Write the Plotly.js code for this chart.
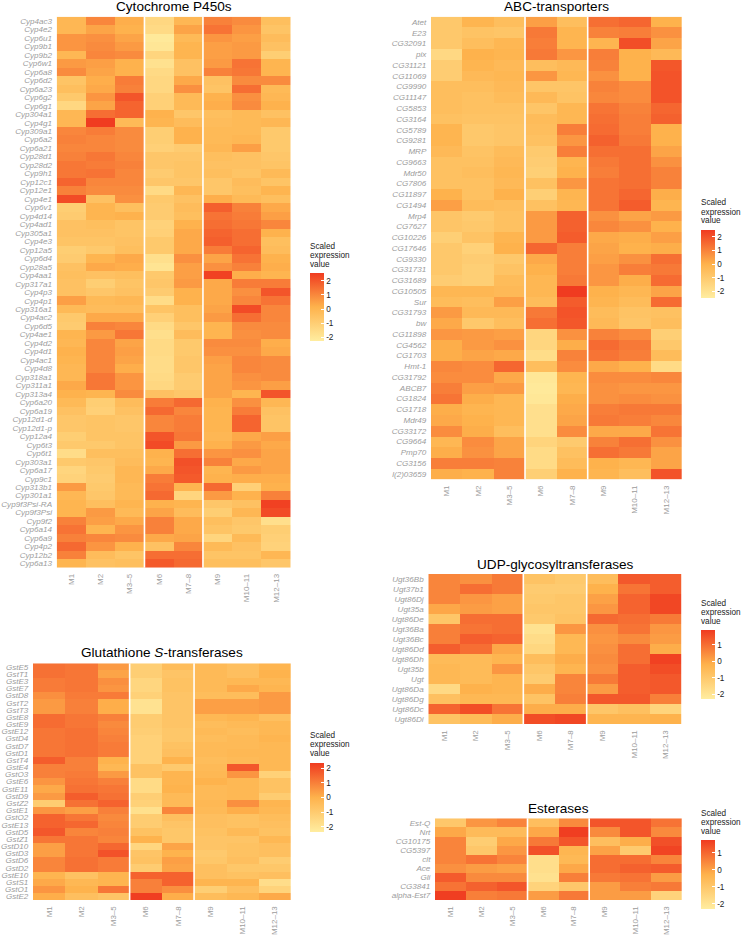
<!DOCTYPE html>
<html>
<head>
<meta charset="utf-8">
<script src="https://cdn.plot.ly/plotly-3.0.1.min.js"></script>
<style>
html, body { margin: 0; padding: 0; background: #fff; }
#chart { width: 742px; height: 935px; }
</style>
</head>
<body>
<div id="chart"></div>
<script>
const stages = ["M1", "M2", "M3–5", "M6", "M7–8", "M9", "M10–11", "M12–13"];
const stageGroups = [3, 2, 3];
const legendLines = ["Scaled", "expression", "value"];

const cypGenes = ["Cyp4ac3", "Cyp4e2", "Cyp6u1", "Cyp9b1", "Cyp9b2", "Cyp6w1", "Cyp6a8", "Cyp6d2", "Cyp6a23", "Cyp6g2", "Cyp6g1", "Cyp304a1", "Cyp4g1", "Cyp309a1", "Cyp6a2", "Cyp6a21", "Cyp28d1", "Cyp28d2", "Cyp9h1", "Cyp12c1", "Cyp12e1", "Cyp4e1", "Cyp6v1", "Cyp4d14", "Cyp4ad1", "Cyp305a1", "Cyp4e3", "Cyp12a5", "Cyp6d4", "Cyp28a5", "Cyp4aa1", "Cyp317a1", "Cyp4p3", "Cyp4p1", "Cyp316a1", "Cyp4ac2", "Cyp6d5", "Cyp4ae1", "Cyp4d2", "Cyp4d1", "Cyp4ac1", "Cyp4d8", "Cyp318a1", "Cyp311a1", "Cyp313a4", "Cyp6a20", "Cyp6a19", "Cyp12d1-d", "Cyp12d1-p", "Cyp12a4", "Cyp6t3", "Cyp6t1", "Cyp303a1", "Cyp6a17", "Cyp9c1", "Cyp313b1", "Cyp301a1", "Cyp9f3Psi-RA", "Cyp9f3Psi", "Cyp9f2", "Cyp6a14", "Cyp6a9", "Cyp4p2", "Cyp12b2", "Cyp6a13"];
const cypValues = [
    [-0.1, 1.0, 0.2, -1.4, -0.1, 1.1, 0.9, -0.4],
    [-0.1, 0.4, 0.1, -1.5, 0.4, 1.4, 0.7, -0.6],
    [0.7, 0.8, 0.4, -2.1, -0.2, 0.7, 0.5, -0.3],
    [0.7, 0.9, 0.6, -2.0, 0.0, 0.5, 0.6, -0.5],
    [-0.1, 1.0, 0.9, -1.3, 0.0, 0.5, 0.6, -1.0],
    [0.6, 0.5, 0.1, -1.8, -0.5, 0.6, 1.4, 0.0],
    [0.9, 0.4, 0.1, -1.5, -0.5, 1.1, 1.3, 0.0],
    [-0.6, 0.2, 1.2, -1.4, 0.3, -0.5, 0.9, 0.9],
    [-0.4, 0.3, 1.1, -1.4, 0.8, -0.6, 1.5, -0.2],
    [-0.8, 0.7, 2.0, -1.1, -0.2, 0.1, 0.8, -0.1],
    [-1.4, 0.4, 1.7, -1.1, -0.2, 0.2, 0.9, 0.1],
    [-0.1, 1.5, 1.7, 0.1, -0.7, -0.4, -0.2, -0.5],
    [-0.1, 2.5, -0.2, 0.0, -0.3, -0.3, -0.2, -0.1],
    [1.0, 1.2, 0.9, -1.0, 0.1, -0.2, -0.2, -0.8],
    [1.1, 1.0, 0.9, -1.0, 0.1, -0.2, -0.1, -0.8],
    [1.0, 1.0, 0.9, -1.1, -0.9, -0.1, 0.5, -0.8],
    [1.1, 1.3, 1.0, -0.7, -0.7, -0.4, -0.5, -0.7],
    [1.3, 1.2, 1.1, -0.7, -0.6, -0.5, -0.5, -0.6],
    [1.3, 1.4, 1.0, -0.9, -0.6, -0.4, -0.6, -0.2],
    [1.7, 1.0, 1.0, -0.7, -0.7, -0.7, -0.3, -0.6],
    [1.1, 0.9, 0.9, -1.5, -0.1, -0.7, -0.4, 0.0],
    [2.2, -0.5, 0.8, -0.8, -0.5, 0.2, -0.2, -0.4],
    [-1.0, 0.0, -0.4, -0.9, -0.3, 1.8, 1.1, 0.3],
    [-0.9, 0.0, 0.1, -0.9, -0.4, 1.4, 1.2, 0.5],
    [-0.5, -0.4, -0.6, -1.2, 0.1, 1.5, 1.3, 1.0],
    [-0.5, -0.5, -0.6, -1.1, 0.3, 1.7, 1.5, 0.1],
    [-0.6, -0.6, -0.5, -0.8, 0.3, 1.8, 1.5, -0.4],
    [-1.0, -0.8, -0.4, -0.8, 0.3, 1.2, 1.7, -0.3],
    [-0.9, 0.0, 0.3, -1.7, 0.8, 0.4, 1.4, 0.1],
    [-0.5, 0.3, 0.2, -1.9, 0.5, 0.8, 1.1, 0.2],
    [-0.4, -0.5, -0.4, -0.8, 0.5, 2.4, 0.2, 0.0],
    [-0.5, -1.0, -0.6, -0.7, 0.6, 0.3, 1.2, 1.2],
    [-0.5, -0.7, -0.5, -0.9, 0.1, 0.3, 0.8, 2.0],
    [0.5, -0.2, -0.1, -1.6, 0.1, 0.3, 1.0, 1.4],
    [-0.2, -0.3, -0.3, -0.6, -0.4, 0.4, 2.2, 1.0],
    [-0.8, 0.3, 0.3, -1.1, -0.4, 0.6, 1.5, 1.0],
    [-0.9, 1.1, 1.0, -1.5, -0.7, 0.0, 0.9, 0.9],
    [0.0, 0.6, 1.3, -1.7, -0.3, 0.0, 0.8, 0.9],
    [-0.1, 1.0, 0.4, -1.5, -0.8, 0.9, 0.9, 0.2],
    [0.1, 1.0, 0.5, -1.5, -0.8, 0.8, 0.8, 0.3],
    [0.0, 1.0, 0.4, -1.6, -0.7, 0.5, 1.0, 0.9],
    [-0.1, 1.0, 0.2, -1.6, -0.7, 0.4, 1.0, 0.9],
    [-0.1, 1.3, 0.7, -1.5, -0.9, 0.4, 0.8, 0.9],
    [0.3, 1.3, 0.7, -1.4, -0.9, 0.4, 0.7, 0.5],
    [0.1, 0.0, 0.9, -0.5, -0.7, 0.4, 0.0, 2.0],
    [-0.2, -1.0, -0.3, 1.2, 1.6, 0.1, 0.8, -0.1],
    [-0.5, -1.1, -0.5, 1.6, 1.0, 0.0, 1.2, -0.5],
    [-0.7, -0.6, -0.7, 1.0, 1.2, 0.0, 1.7, -0.6],
    [-0.7, -0.6, -0.7, 1.0, 1.2, 0.0, 1.7, -0.6],
    [-1.0, -0.6, -0.6, 2.0, 1.3, -0.1, 0.3, 0.5],
    [-0.8, -0.8, -0.6, 2.2, 0.6, 0.1, 0.6, 0.3],
    [-1.6, -0.4, -0.4, 0.1, 1.5, 0.7, 0.8, 0.4],
    [-0.8, -0.7, -0.3, 0.0, 2.1, 1.1, 0.3, 0.4],
    [-1.3, -0.8, -0.1, 0.3, 2.0, 0.0, 0.6, 0.4],
    [-1.2, -0.9, -0.1, 1.2, 1.9, 0.1, 0.2, 0.2],
    [0.6, -0.8, -0.2, 1.4, 0.0, 1.6, -1.1, 0.1],
    [-0.1, -0.7, -0.2, 1.6, -1.3, 0.6, 0.1, 1.1],
    [0.0, -0.4, 0.0, 0.1, 0.0, -0.7, -0.5, 2.4],
    [0.0, 0.6, -0.2, 0.4, -0.3, -1.0, -0.1, 2.2],
    [1.1, 0.5, 0.3, 1.1, 0.3, -0.4, -0.7, -1.7],
    [1.4, 0.0, 0.7, 1.1, 0.3, -0.6, -0.8, -1.0],
    [1.1, 1.0, 0.9, 0.3, 0.4, -1.3, -0.2, -1.1],
    [1.6, 0.7, 0.1, -0.5, 1.0, -0.2, -0.5, -1.2],
    [1.1, -0.3, -0.6, 1.5, 1.5, -0.6, -0.6, -0.1],
    [0.0, -0.5, -0.4, 1.9, 1.6, -0.4, -0.4, -0.7]
];

const abcGenes = ["Atet", "E23", "CG32091", "pix", "CG31121", "CG11069", "CG9990", "CG11147", "CG5853", "CG3164", "CG5789", "CG9281", "MRP", "CG9663", "Mdr50", "CG7806", "CG11897", "CG1494", "Mrp4", "CG7627", "CG10226", "CG17646", "CG9330", "CG31731", "CG31689", "CG10505", "Sur", "CG31793", "bw", "CG11898", "CG4562", "CG1703", "Hmt-1", "CG31792", "ABCB7", "CG1824", "CG1718", "Mdr49", "CG33172", "CG9664", "Pmp70", "CG3156", "l(2)03659"];
const abcValues = [
    [-0.9, -0.1, -0.5, 0.4, -0.5, 1.4, 1.6, 0.0],
    [-0.9, -0.7, -0.8, 1.2, -0.1, 1.0, 1.1, 0.7],
    [-0.9, -0.5, -0.2, 1.1, -0.1, -0.1, 2.1, 0.3],
    [-1.6, 0.0, -0.1, 1.2, 0.6, 1.1, 0.0, -0.3],
    [-1.1, -0.1, -0.3, -0.5, -0.3, 1.0, 0.0, 1.9],
    [-1.1, -0.3, -0.2, 0.6, -0.2, 0.7, 0.0, 2.0],
    [-0.5, -0.5, -0.3, -0.8, -0.8, 1.0, 0.8, 2.0],
    [-0.5, -0.6, -0.4, -0.3, -0.7, 0.9, 0.8, 2.0],
    [-0.5, -0.6, -0.6, -0.8, -0.2, 1.3, 1.0, 1.6],
    [-0.6, -0.7, -0.7, -0.4, -0.2, 1.4, 1.1, 1.7],
    [-0.1, -0.9, -0.8, -0.5, 1.1, 1.5, 1.1, 0.0],
    [-0.1, -0.9, -0.8, -0.6, 0.6, 1.7, 1.2, 0.0],
    [-0.3, -0.7, -0.4, -1.0, 1.1, 1.4, 1.4, 0.3],
    [-0.6, -0.6, -0.3, -1.1, -0.1, 1.2, 1.4, 0.7],
    [-0.6, -0.5, -0.2, -1.2, 0.0, 1.1, 1.4, 1.0],
    [-0.6, -0.6, -0.3, -0.6, 0.6, 1.3, 1.4, 1.0],
    [0.0, -0.6, 0.0, -1.2, -0.1, 1.3, 1.6, 0.1],
    [0.4, -0.4, -0.5, -0.6, -0.2, 1.3, 1.8, -0.1],
    [-0.8, -1.0, -0.6, 0.5, 1.7, 0.7, 0.3, 0.5],
    [-0.8, -0.9, -0.6, 0.5, 1.7, 0.9, 0.7, 0.0],
    [-1.2, -0.7, -0.1, 0.5, 1.8, 0.2, 0.1, 0.4],
    [-0.9, -1.3, 0.0, 1.6, 1.1, 0.3, 0.0, 0.1],
    [-0.9, -1.1, -0.9, 0.2, 1.1, 0.4, 0.7, 1.4],
    [-0.9, -1.2, -0.7, 0.0, 1.1, 0.6, 1.1, 1.2],
    [-1.1, -1.2, -0.4, -0.2, 1.2, 0.6, 0.1, 1.5],
    [-0.2, -0.2, -0.3, -0.2, 2.5, 0.0, -0.2, 0.3],
    [-0.4, -0.5, 0.4, -0.4, 1.8, -0.1, -0.4, 1.5],
    [0.5, -0.3, -0.3, 1.2, 2.0, -0.4, -0.7, -0.6],
    [0.2, -0.9, -0.5, 1.4, 1.9, -0.3, -0.8, -0.5],
    [0.6, 0.5, 0.4, -1.5, 0.7, 1.0, 0.8, -1.2],
    [0.1, 0.5, 0.7, -1.5, 0.1, 1.5, 1.2, -0.9],
    [0.1, 0.3, 0.2, -1.8, 1.0, 1.3, 1.1, -0.4],
    [0.9, 0.8, 1.6, -0.5, 0.8, 0.2, 0.0, -1.7],
    [0.8, 0.8, 0.2, -2.2, -0.1, 0.8, 0.8, 0.9],
    [1.1, 0.4, 0.5, -2.3, -0.2, 0.7, 0.6, 0.6],
    [1.3, 0.1, -0.2, -2.2, 0.1, 0.7, 0.8, 0.7],
    [0.1, -0.1, -0.2, -1.9, 0.2, 1.1, 1.2, 1.2],
    [0.2, 0.0, -0.2, -1.9, 0.3, 1.2, 1.1, 0.9],
    [0.8, 0.1, -0.5, -1.9, 0.8, 0.2, 0.2, 1.3],
    [-0.2, 0.8, 0.3, -1.4, -1.0, 1.0, 1.4, 0.7],
    [0.1, 0.7, 0.3, -1.7, -0.6, 1.4, 1.2, 0.3],
    [1.1, 1.1, 1.0, -1.7, -0.4, 0.0, -0.2, 0.3],
    [0.1, 0.0, 1.0, -1.2, 0.0, -0.1, -0.5, 2.0]
];

const gstGenes = ["GstE5", "GstT1", "GstE3", "GstE7", "GstD8", "GstT2", "GstT3", "GstE8", "GstE9", "GstE12", "GstD4", "GstD7", "GstD1", "GstT4", "GstE4", "GstO3", "GstE6", "GstE11", "GstD9", "GstZ2", "GstE1", "GstO2", "GstE13", "GstD5", "GstZ1", "GstD10", "GstD3", "GstD6", "GstD2", "GstE10", "GstS1", "GstO1", "GstE2"];
const gstValues = [
    [1.3, 1.2, 0.5, -1.1, -0.4, -0.3, -0.5, -0.1],
    [1.3, 1.2, 0.3, -1.1, -0.7, -0.3, -0.5, 0.0],
    [1.1, 1.2, 0.7, -1.4, -0.6, -0.3, -0.2, -0.2],
    [1.1, 1.2, 0.6, -1.4, -0.6, -0.3, 0.2, -0.1],
    [0.7, 1.1, 1.1, -1.2, -0.7, -0.4, -0.4, 0.5],
    [0.5, 1.0, 0.1, -1.9, -0.7, 0.4, 0.4, 0.5],
    [0.5, 1.0, 0.1, -1.9, -0.7, 0.4, 0.4, 0.5],
    [1.4, 1.2, 1.0, -1.0, -0.7, -0.2, -0.1, -0.5],
    [1.4, 1.2, 0.8, -1.0, -0.7, -0.4, -0.3, -0.2],
    [1.2, 1.3, 0.9, -1.1, -0.8, -0.3, -0.4, -0.2],
    [1.2, 1.3, 1.0, -1.2, -0.8, -0.4, -0.3, -0.1],
    [1.2, 1.3, 1.1, -1.2, -0.6, -0.3, -0.3, -0.2],
    [1.2, 1.3, 1.1, -1.2, -0.5, -0.3, -0.2, -0.2],
    [1.7, 1.0, 0.0, -1.2, 0.0, -0.4, -0.3, -0.2],
    [1.0, 1.0, -0.2, -0.6, -0.9, -0.3, 1.8, -0.2],
    [1.0, 1.1, 0.5, -0.6, -0.1, -0.2, 0.6, -1.2],
    [0.6, 1.2, 1.0, -1.6, -0.1, 0.0, -0.2, -0.6],
    [0.2, 1.3, 1.2, -1.6, 0.0, -0.3, -0.2, -0.6],
    [0.5, 1.7, 1.3, -1.1, -0.3, -0.3, -0.2, -1.0],
    [-1.0, 1.3, 1.6, -1.2, -0.3, -0.2, 0.7, -0.1],
    [0.6, 0.4, 1.0, -1.8, 0.9, -0.3, 0.1, -0.2],
    [1.6, 1.2, 0.8, -1.0, -0.5, -0.5, -0.6, -0.4],
    [1.6, 1.5, 0.9, -1.0, -0.7, -0.5, -0.6, -0.5],
    [1.8, 0.9, 1.0, -0.6, -0.8, -0.6, -0.3, -0.6],
    [1.2, 1.2, 0.9, 0.0, -0.8, -0.7, -0.7, -0.2],
    [0.4, 1.2, 1.5, -1.4, 0.3, -0.7, -0.6, -0.5],
    [0.4, 1.2, 1.9, -0.7, 0.0, -0.9, -0.6, -0.5],
    [0.9, 1.3, 1.1, -0.6, 0.4, -0.8, -0.5, -1.0],
    [0.9, 1.3, 1.1, -1.0, 0.3, -0.5, -0.8, -0.8],
    [-0.1, -0.6, -0.1, 1.6, 1.6, -0.5, -0.6, -0.5],
    [0.2, -0.2, -0.1, 1.0, 1.6, -0.1, -0.1, -1.7],
    [0.6, 0.0, 1.2, 1.0, 0.7, -1.1, -0.5, -1.3],
    [0.1, -0.5, -0.7, 2.3, 0.1, -0.4, -0.2, 0.2]
];

const ugtGenes = ["Ugt36Bb", "Ugt37b1", "Ugt86Dj", "Ugt35a", "Ugt86De", "Ugt36Ba", "Ugt36Bc", "Ugt86Dd", "Ugt86Dh", "Ugt35b", "Ugt", "Ugt86Da", "Ugt86Dg", "Ugt86Dc", "Ugt86Di"];
const ugtValues = [
    [0.6, 0.4, 0.8, -0.8, -1.0, -0.6, 1.4, 1.3],
    [0.6, 1.0, 0.8, -1.1, -1.1, -0.2, 0.9, 1.3],
    [0.6, 0.3, 0.1, -1.0, -0.9, 0.1, 1.2, 1.7],
    [0.0, 0.2, 0.1, -0.9, -0.9, 0.3, 1.2, 1.7],
    [-0.9, 1.0, 1.0, -1.0, -0.8, 1.1, 1.0, 0.8],
    [0.7, 0.9, 1.0, -1.9, 0.3, 0.4, 0.9, 0.3],
    [0.7, 1.3, 1.2, -1.7, -0.4, 0.3, 0.5, 0.2],
    [1.3, 1.0, 0.0, -1.5, -0.4, 0.4, 1.0, -0.1],
    [-0.5, -0.5, -0.3, -0.6, -0.1, 0.5, 1.0, 1.8],
    [-0.4, -0.5, 0.3, -0.9, -0.3, 0.4, 1.3, 1.6],
    [-0.4, -0.5, -0.3, -1.1, 0.6, 0.8, 1.3, 1.4],
    [-1.6, -0.2, -0.3, -0.1, 0.6, 0.2, 1.3, 1.4],
    [-0.7, -0.4, -0.4, -0.8, 0.7, 1.4, 1.4, 0.7],
    [1.2, 1.6, 0.9, -0.1, -0.1, -0.9, -0.7, -1.4],
    [-0.8, -0.5, -0.1, 1.6, 1.7, -0.3, -0.3, -0.2]
];

const estGenes = ["Est-Q", "Nrt", "CG10175", "CG5397", "clt", "Ace", "Gli", "CG3841", "alpha-Est7"];
const estValues = [
    [-1.0, 0.2, 0.5, -0.7, 0.4, 1.3, 1.3, 0.8],
    [-0.1, -0.6, -0.6, -0.1, 1.7, 0.4, 1.3, 0.4],
    [0.5, -1.2, -0.1, 0.7, 1.3, -0.7, -0.2, 1.4],
    [0.5, -1.0, 0.2, 1.4, -0.4, 0.0, -1.1, 1.6],
    [0.5, 0.8, 0.5, -1.8, -0.5, 0.9, 0.9, 0.5],
    [0.3, 0.1, 0.0, -1.8, -0.1, 0.9, 1.1, 1.2],
    [1.2, 0.4, 0.4, -1.9, 0.6, 0.7, 0.8, 0.1],
    [0.8, 1.1, 1.3, -1.4, -1.0, 0.1, 0.6, 0.7],
    [1.7, 0.6, 0.7, 0.1, 0.7, 0.1, 0.1, -1.4]
];

const expressionColors = [[0, "#ffeda0"], [0.5, "#feb24c"], [1, "#f03b20"]];

// left, right, top, bottom of each heatmap and its colour bar, in page pixels
const panels = [
    {title: "Cytochrome P450s", genes: cypGenes, values: cypValues, box: [56.7, 290.7, 16.7, 567.7], bar: [310, 273.3, 341.7], range: [-2.28, 2.52], titleY: 6.6, ticks: [-2, -1, 0, 1, 2]},
    {title: "ABC-transporters", genes: abcGenes, values: abcValues, box: [431, 681.7, 16.7, 479.3], bar: [701.3, 230, 297.7], range: [-2.47, 2.49], titleY: 6.6, ticks: [-2, -1, 0, 1, 2]},
    {title: "Glutathione <i>S</i>-transferases", genes: gstGenes, values: gstValues, box: [33, 290.7, 663.3, 900], bar: [310, 762.7, 831.7], range: [-2.32, 2.36], titleY: 652.3, ticks: [-2, -1, 0, 1, 2]},
    {title: "UDP-glycosyltransferases", genes: ugtGenes, values: ugtValues, box: [428.3, 681.7, 574, 724], bar: [701.3, 630, 699], range: [-2.3, 1.91], titleY: 564, ticks: [-2, -1, 0, 1]},
    {title: "Esterases", genes: estGenes, values: estValues, box: [435, 681.7, 818.3, 900], bar: [701.3, 840, 909], range: [-2.3, 1.75], titleY: 808.7, ticks: [-2, -1, 0, 1]}
];

const pageWidth = 742;
const pageHeight = 935;
const tickGray = "#9c9c9c";

const traces = [];
const shapes = [];
const annotations = [];
const layout = {
    width: pageWidth,
    height: pageHeight,
    margin: {t: 0, r: 0, b: 0, l: 0},
    paper_bgcolor: "#fff",
    plot_bgcolor: "#fff",
    showlegend: false,
    font: {family: "Liberation Sans, Arial, sans-serif"}
};

panels.forEach(function(panel, i){
    const axisNum = i === 0 ? "" : String(i + 1);
    const box = panel.box;
    const bar = panel.bar;

    traces.push({
        type: "heatmap",
        x: stages,
        y: panel.genes,
        z: panel.values,
        xaxis: "x" + axisNum,
        yaxis: "y" + axisNum,
        zmin: panel.range[0],
        zmax: panel.range[1],
        colorscale: expressionColors,
        colorbar: {
            x: bar[0] / pageWidth,
            xanchor: "left",
            xpad: 0,
            y: 1 - bar[1] / pageHeight,
            yanchor: "top",
            ypad: 0,
            len: bar[2] - bar[1],
            lenmode: "pixels",
            thickness: 14,
            outlinewidth: 0,
            tickmode: "array",
            tickvals: panel.ticks,
            ticktext: panel.ticks.map(String),
            ticks: "inside",
            ticklen: 3,
            tickcolor: "#fff",
            tickfont: {size: 8.2, color: "#222"}
        }
    });

    layout["xaxis" + axisNum] = {
        domain: [box[0] / pageWidth, box[1] / pageWidth],
        anchor: "y" + axisNum,
        type: "category",
        tickangle: -90,
        tickfont: {size: 8, color: tickGray},
        ticks: "outside",
        ticklen: 2,
        tickcolor: "#fff",
        showgrid: false,
        zeroline: false,
        showline: false
    };
    layout["yaxis" + axisNum] = {
        domain: [1 - box[3] / pageHeight, 1 - box[2] / pageHeight],
        anchor: "x" + axisNum,
        type: "category",
        autorange: "reversed",
        tickmode: "linear",
        tick0: 0,
        dtick: 1,
        tickfont: {size: 8.1, color: tickGray, style: "italic"},
        ticks: "outside",
        ticklen: 2,
        tickcolor: "#fff",
        showgrid: false,
        zeroline: false,
        showline: false
    };

    // white rules between the stage groups
    let edge = -0.5;
    stageGroups.slice(0, -1).forEach(function(size){
        edge += size;
        shapes.push({
            type: "line",
            xref: "x" + axisNum,
            yref: "y" + axisNum + " domain",
            x0: edge,
            x1: edge,
            y0: 0,
            y1: 1,
            line: {color: "#fff", width: 1.6}
        });
    });

    annotations.push({
        text: panel.title,
        xref: "paper",
        yref: "paper",
        x: (box[0] + box[1]) / 2 / pageWidth,
        y: 1 - panel.titleY / pageHeight,
        xanchor: "center",
        yanchor: "middle",
        showarrow: false,
        font: {size: 13.6, color: "#000"}
    });

    // legend heading sits line by line above the bar
    legendLines.forEach(function(line, j){
        annotations.push({
            text: line,
            xref: "paper",
            yref: "paper",
            x: bar[0] / pageWidth,
            y: 1 - (bar[1] - 9 - 9 * (legendLines.length - 1 - j)) / pageHeight,
            xanchor: "left",
            yanchor: "middle",
            xshift: -1,
            borderpad: 0,
            showarrow: false,
            font: {size: 8.2, color: "#222"}
        });
    });
});

layout.shapes = shapes;
layout.annotations = annotations;

Plotly.newPlot("chart", traces, layout, {displayModeBar: false, responsive: false});
</script>
</body>
</html>
